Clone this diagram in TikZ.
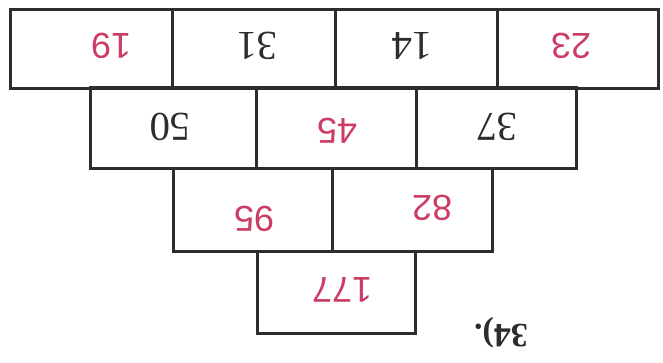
\documentclass[tikz,border=0pt]{standalone}
\usepackage{fontspec}
\setmainfont{Liberation Serif}
\newfontfamily\handfont{Liberation Sans}
\definecolor{ink}{RGB}{45,45,45}
\definecolor{redink}{RGB}{205,60,100}
\begin{document}
\begin{tikzpicture}[x=1pt,y=-1pt,
  cell/.style={draw=ink,line width=3pt,rectangle,inner sep=0pt,minimum height=79pt},
  printed/.style={text=ink,font=\fontsize{41}{41}\selectfont,rotate=180,inner sep=0pt},
  hand/.style={text=redink,font=\handfont\fontsize{36}{36}\selectfont,rotate=180,inner sep=0pt}]
\fill[white] (0,0) rectangle (663,363);
\useasboundingbox (0,0) rectangle (663,363);
% row 1
\node[cell,minimum width=162pt] (a1) at (91,49) {};
\node[cell,minimum width=163pt] (a2) at (253.5,49) {};
\node[cell,minimum width=162pt] (a3) at (416,49) {};
\node[cell,minimum width=161pt] (a4) at (577.5,49) {};
% row 2
\node[cell,minimum width=166pt,minimum height=81pt] (b1) at (173,128.5) {};
\node[cell,minimum width=160pt,minimum height=81pt] (b2) at (336,128.5) {};
\node[cell,minimum width=160pt,minimum height=81pt] (b3) at (496,128.5) {};
% row 3
\node[cell,minimum width=159pt,minimum height=82pt] (c1) at (252.5,210) {};
\node[cell,minimum width=160pt,minimum height=82pt] (c2) at (412,210) {};
% row 4
\node[cell,minimum width=158pt,minimum height=82pt] (d1) at (336,292) {};
% texts
\node[hand] (t19) at (111,46) {19};
\node[printed] (t31) at (257,46) {31};
\node[printed] (t14) at (412,46) {14};
\node[hand] (t23) at (571,46) {23};
\node[printed] (t50) at (170,127) {50};
\node[hand] (t45) at (337,131) {45};
\node[printed] (t37) at (497,127) {37};
\node[hand] (t95) at (254,219) {95};
\node[hand] (t82) at (432,208) {82};
\node[hand] (t177) at (342,290) {177};
\node[text=ink,font=\bfseries\fontsize{34}{34}\selectfont,rotate=180,inner sep=0pt] (lbl) at (501,333) {34).};
\end{tikzpicture}
\end{document}
